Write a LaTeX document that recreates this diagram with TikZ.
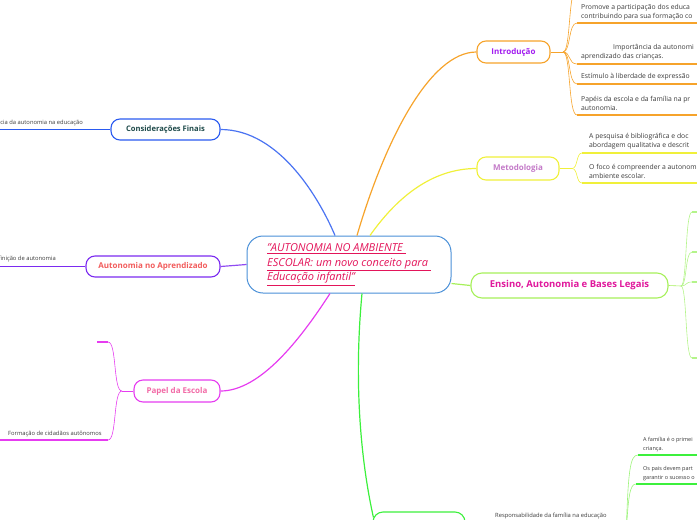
\documentclass[tikz,border=0pt]{standalone}
\usepackage{fontspec}
\setmainfont{Open Sans}
\usetikzlibrary{calc}
\definecolor{orangeC}{HTML}{F6A32B}
\definecolor{introT}{HTML}{A21CF0}
\definecolor{yellowC}{HTML}{F0F03A}
\definecolor{metT}{HTML}{C47AC8}
\definecolor{ensB}{HTML}{A6F05A}
\definecolor{ensT}{HTML}{E0189C}
\definecolor{greenC}{HTML}{3CF03C}
\definecolor{lgreen}{HTML}{B4F48A}
\definecolor{considB}{HTML}{2A5AF0}
\definecolor{considT}{HTML}{1E4A4A}
\definecolor{autB}{HTML}{7B2BF0}
\definecolor{autT}{HTML}{F25C5C}
\definecolor{papB}{HTML}{E63CF0}
\definecolor{papT}{HTML}{F26AA6}
\definecolor{centB}{HTML}{4A90D8}
\definecolor{titleT}{HTML}{E3155A}
\definecolor{txt}{HTML}{3A3A3A}
\begin{document}
\begin{tikzpicture}[x=1pt,y=-1pt,
  topic/.style={draw, rounded corners=9pt, line width=1.1pt, fill=white, inner sep=0pt,
    font=\fontsize{8}{10}\selectfont\bfseries},
  smalltxt/.style={font=\fontsize{6.8}{9}\selectfont, text=txt, align=left, inner sep=0pt, anchor=south west},
  tinytxt/.style={font=\fontsize{5.8}{8}\selectfont, text=txt, align=left, inner sep=0pt},
  uline/.style={line width=1.8pt},
  twig/.style={line width=0.6pt},
  conn/.style={line width=1.2pt}]
\useasboundingbox (0,0) rectangle (697,520);

% ---------- central node
\node[draw=centB, line width=1pt, rounded corners=16pt, fill=white, minimum width=204pt, minimum height=57pt,
  align=left, text=titleT, font=\fontsize{11}{14.5}\selectfont\itshape, inner sep=0pt] (central) at (349,264.5)
  {\underline{"AUTONOMIA NO AMBIENTE\ }\\\underline{ESCOLAR: um novo conceito para\ }\\\underline{Educação infantil"}};

% ---------- main topics
\node[topic, draw=orangeC, text=introT, minimum width=73pt, minimum height=22pt] (intro) at (513.5,52) {Introdução};
\node[topic, draw=yellowC, text=metT, minimum width=82pt, minimum height=23pt] (metod) at (518,168.5) {Metodologia};
\node[topic, draw=ensB, text=ensT, minimum width=197pt, minimum height=25pt, rounded corners=11pt,
  font=\fontsize{9.5}{11}\selectfont\bfseries] (ensino) at (569.5,285.5) {Ensino, Autonomia e Bases Legais};
\node[topic, draw=considB, text=considT, minimum width=109pt, minimum height=21pt,
  font=\fontsize{7.6}{10}\selectfont\bfseries] (consid) at (165.5,129.5) {Considerações Finais};
\node[topic, draw=autB, text=autT, minimum width=134pt, minimum height=21pt] (autap) at (153,266.5) {Autonomia no Aprendizado};
\node[topic, draw=papB, text=papT, minimum width=86pt, minimum height=22pt] (papel) at (177,391) {Papel da Escola};
\node[draw=greenC, line width=1.1pt, rounded corners=10pt, fill=white, minimum width=92pt, minimum height=36pt] (bottom) at (419,530) {};

% ---------- main connectors
\draw[conn, orangeC] ($(central.north)+(8,0)$) .. controls (385,140) and (430,52) .. (intro.west);
\draw[conn, yellowC] ($(central.north)+(21,0)$) .. controls (395,200) and (430,168.5) .. (metod.west);
\draw[conn, considB!85] ($(central.north)+(-14,0)$) .. controls (320,200) and (280,129.5) .. (consid.east);
\draw[conn, autB!85] (central.west) -- (autap.east);
\draw[conn, papB] ($(central.south)+(-19,0)$) .. controls (300,340) and (260,391) .. (papel.east);
\draw[conn, ensB] ($(central.east)+(0,19)$) -- (ensino.west);
\draw[conn, greenC] ($(central.south)+(13,0)$) .. controls (352,400) and (365,480) .. ($(bottom.north west)+(1,6)$);

% ---------- Introducao children
\coordinate (ib) at (563,52);
\draw[twig, orangeC] (intro.east) -- (ib);
\foreach \yy/\n in {-12/0,23/1,64/2,84/3,115/4}{
  \coordinate (ia\n) at (577,\yy);
  \coordinate (iz\n) at (697,\yy);
  \draw[twig, orangeC] (ib) .. controls +(8,0) and +(-9,0) .. (ia\n);
  \draw[uline, orangeC] (ia\n) -- (iz\n);
}
\node[smalltxt] (it1) at (581,20) {Promove a participação dos educa\\contribuindo para sua formação co};
\node[smalltxt] (it2) at (581,60) {\hspace*{32pt}Importância da autonomi\\aprendizado das crianças.};
\node[smalltxt] (it3) at (581,80) {Estímulo à liberdade de expressão};
\node[smalltxt] (it4) at (581,111) {Papéis da escola e da família na pr\\autonomia.};

% ---------- Metodologia children
\coordinate (mb) at (572,168.5);
\draw[twig, yellowC] (metod.east) -- (mb);
\foreach \yy/\n in {153/1,183/2}{
  \coordinate (ma\n) at (582,\yy);
  \coordinate (mz\n) at (697,\yy);
  \draw[twig, yellowC] (mb) .. controls +(6,0) and +(-6,0) .. (ma\n);
  \draw[uline, yellowC] (ma\n) -- (mz\n);
}
\node[smalltxt] (mt1) at (589,149) {A pesquisa é bibliográfica e doc\\abordagem qualitativa e descrit};
\node[smalltxt] (mt2) at (589,179) {O foco é compreender a autonom\\ambiente escolar.};

% ---------- Ensino children
\coordinate (eb) at (681,286);
\draw[twig, ensB] (ensino.east) -- (eb);
\foreach \yy/\n in {212/1,252/2,282/3,358/4}{
  \coordinate (ea\n) at (692,\yy);
  \coordinate (ez\n) at (697,\yy);
  \draw[twig, lgreen] (eb) .. controls +(6,0) and +(-7,0) .. (ea\n);
  \draw[uline, lgreen] (ea\n) -- (ez\n);
}

% ---------- Consideracoes children
\coordinate (cb) at (87,129.5);
\coordinate (cz) at (0,129.5);
\draw[twig, considB] (consid.west) -- (cb);
\draw[uline, considB] (cb) -- (cz);
\node[tinytxt, anchor=south east] (ct1) at (83,126) {Importância da autonomia na educação};

% ---------- Autonomia no Aprendizado children
\coordinate (ab) at (61,266.5);
\coordinate (az) at (0,266.5);
\draw[twig, autB] (autap.west) -- (ab);
\draw[uline, autB] (ab) -- (az);
\node[tinytxt, anchor=south east] (at1) at (56,262.5) {Definição de autonomia};

% ---------- Papel da Escola children
\coordinate (pb) at (122,391);
\draw[twig, papB] (papel.west) -- (pb);
\coordinate (pa1) at (108,342);
\coordinate (pz1) at (97,342);
\coordinate (pa2) at (108,440);
\coordinate (pz2) at (0,440);
\draw[twig, papB] (pb) .. controls (113,391) and (117,342) .. (pa1);
\draw[twig, papB] (pb) .. controls (113,391) and (117,440) .. (pa2);
\draw[uline, papB] (pa1) -- (pz1);
\draw[uline, papB] (pa2) -- (pz2);
\node[tinytxt, anchor=south west] (pt2) at (8,437) {Formação de cidadãos autônomos};

% ---------- bottom family branch
\node[tinytxt, anchor=west] (resp) at (495,516) {Responsabilidade da família na educação};
\coordinate (fb) at (626,540);
\coordinate (fa1) at (638,455);
\coordinate (fz1) at (697,455);
\coordinate (fa2) at (636,484);
\coordinate (fz2) at (697,484);
\draw[twig, lgreen!80!greenC] (fb) .. controls (628,470) and (630,455) .. (fa1);
\draw[twig, lgreen!80!greenC] (fb) .. controls (628,495) and (630,484) .. (fa2);
\draw[uline, greenC] (fa1) -- (fz1);
\draw[uline, greenC] (fa2) -- (fz2);
\node[tinytxt, anchor=south west, font=\fontsize{5.5}{8.5}\selectfont] (ft1) at (643,452) {A família é o primei\\criança.};
\node[tinytxt, anchor=south west, font=\fontsize{5.5}{8.5}\selectfont] (ft2) at (643,481) {Os pais devem part\\garantir o sucesso o};
\end{tikzpicture}
\end{document}
